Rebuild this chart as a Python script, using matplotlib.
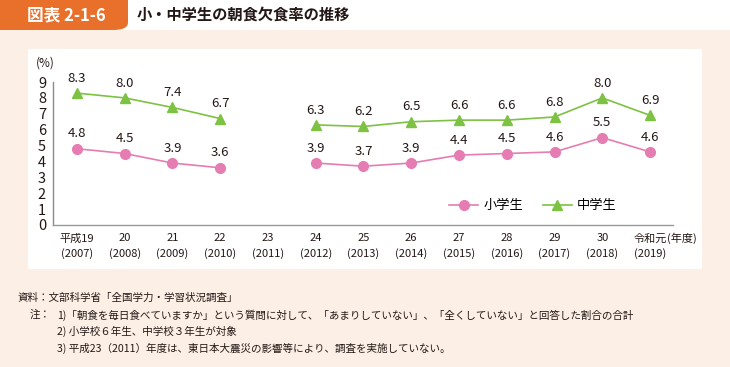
import numpy as np
import matplotlib
matplotlib.use("Agg")
import matplotlib.pyplot as plt
from matplotlib.patches import Rectangle, FancyBboxPatch

plt.rcParams['font.family'] = ['Noto Sans CJK JP', 'DejaVu Sans']

# ─────────────────────────────────────────
# data
# ─────────────────────────────────────────
years_jp = ["平成19", "20", "21", "22", "23", "24", "25", "26", "27", "28", "29", "30", "令和元"]
years_ad = ["2007", "2008", "2009", "2010", "2011", "2012", "2013", "2014", "2015", "2016", "2017", "2018", "2019"]
elementary = [4.8, 4.5, 3.9, 3.6, np.nan, 3.9, 3.7, 3.9, 4.4, 4.5, 4.6, 5.5, 4.6]
junior_high = [8.3, 8.0, 7.4, 6.7, np.nan, 6.3, 6.2, 6.5, 6.6, 6.6, 6.8, 8.0, 6.9]
series_names = ["小学生", "中学生"]

notes = [
    "「朝食を毎日食べていますか」という質問に対して、「あまりしていない」、「全くしていない」と回答した割合の合計",
    "小学校６年生、中学校３年生が対象",
    "平成23（2011）年度は、東日本大震災の影響等により、調査を実施していない。",
]

PINK = "#E57DB3"
GREEN = "#7DC242"
ORANGE = "#E8702A"
BEIGE = "#FCF0E6"
TEXT = "#231815"

W, H = 730, 367
fig = plt.figure(figsize=(W / 100, H / 100), dpi=100)
fig.patch.set_facecolor("white")


def fx(x):
    return x / W


def fy(y):
    return 1 - y / H


# background panels
fig.patches.append(FancyBboxPatch((fx(-20), fy(30)), fx(148), 40 / H,
                                  boxstyle="round,pad=0,rounding_size=0.02",
                                  transform=fig.transFigure, facecolor=ORANGE,
                                  edgecolor="none", zorder=0))
fig.patches.append(Rectangle((0, 0), 1, fy(30), transform=fig.transFigure,
                             facecolor=BEIGE, edgecolor="none", zorder=1))
fig.patches.append(Rectangle((fx(28), fy(269)), fx(674), 220 / H, transform=fig.transFigure,
                             facecolor="white", edgecolor="none", zorder=2))

fig.text(fx(66), fy(15), "図表 2-1-6", color="white", fontsize=12, fontweight="bold",
         ha="center", va="center", zorder=5)
fig.text(fx(137), fy(15), "小・中学生の朝食欠食率の推移", color=TEXT, fontsize=11,
         fontweight="bold", ha="left", va="center", zorder=5)

# ─────────────────────────────────────────
# chart
# ─────────────────────────────────────────
ax = fig.add_axes([fx(53), fy(225), fx(673) - fx(53), (225 - 82) / H])
ax.set_zorder(5)
ax.set_facecolor("none")
x = np.arange(len(years_jp))

ax.plot(x, elementary, color=PINK, lw=1.2, marker="o", ms=7, mec=PINK, mfc=PINK,
        label=series_names[0], clip_on=False, zorder=3)
ax.plot(x, junior_high, color=GREEN, lw=1.2, marker="^", ms=7.5, mec=GREEN, mfc=GREEN,
        label=series_names[1], clip_on=False, zorder=3)

for xi, v in zip(x, elementary):
    if not np.isnan(v):
        ax.annotate(f"{v:.1f}", (xi, v), xytext=(0, 6), textcoords="offset points",
                    ha="center", va="bottom", fontsize=9.5, color=TEXT)
for xi, v in zip(x, junior_high):
    if not np.isnan(v):
        ax.annotate(f"{v:.1f}", (xi, v), xytext=(0, 6), textcoords="offset points",
                    ha="center", va="bottom", fontsize=9.5, color=TEXT)

ax.set_xlim(-0.5, 12.48)
ax.set_ylim(0, 9)
ax.set_yticks(range(10))
ax.set_xticks(x)
ax.set_xticklabels([f"{a}\n({b})" for a, b in zip(years_jp, years_ad)], fontsize=8,
                   color=TEXT, linespacing=1.5)
ax.tick_params(axis="x", length=0, pad=6)
ax.tick_params(axis="y", length=0, pad=5, labelsize=10.5, labelcolor=TEXT)
for s in ["top", "right"]:
    ax.spines[s].set_visible(False)
ax.spines["left"].set_color("#8a8a8a")
ax.spines["bottom"].set_color("#999999")
ax.spines["left"].set_linewidth(1.0)
ax.spines["bottom"].set_linewidth(1.0)

fig.text(fx(45), fy(63), "(%)", fontsize=8.5, color=TEXT, ha="center", va="center", zorder=5)
fig.text(fx(667), fy(238), "(年度)", fontsize=8, color=TEXT, ha="left", va="center", zorder=5)

ax.legend(loc="center left", bbox_to_anchor=(fx(449), fy(206)), bbox_transform=fig.transFigure,
          ncol=2, frameon=False, fontsize=9.5, handlelength=2.2, columnspacing=1.5,
          handletextpad=0.4, borderaxespad=0, borderpad=0)

# ─────────────────────────────────────────
# notes
# ─────────────────────────────────────────
fs = 7.6
fig.text(fx(18), fy(298), "資料：文部科学省「全国学力・学習状況調査」", fontsize=fs, color=TEXT,
         va="center", zorder=5)
fig.text(fx(30), fy(315), "注：", fontsize=fs, color=TEXT, va="center", zorder=5)
for i, n in enumerate(notes):
    yy = 315 + i * 16.5
    sep = "" if n.startswith("「") else " "
    fig.text(fx(57), fy(yy), f"{i + 1}){sep}{n}", fontsize=fs, color=TEXT, va="center", zorder=5)

fig.savefig("out.png", dpi=100, facecolor=fig.get_facecolor())
